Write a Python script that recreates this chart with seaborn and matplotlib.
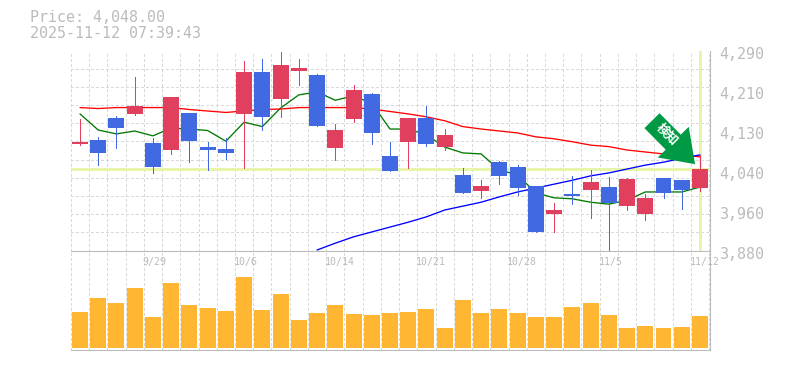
import numpy as np
import pandas as pd
import matplotlib
matplotlib.use("Agg")
import matplotlib.pyplot as plt
from matplotlib.transforms import ScaledTranslation
import seaborn as sns

open_ = [4098,4106,4152,4160,4100,4086,4162,4092,4088,4160,4246,4191,4248,4240,4090,4150,4201,4074,4102,4152,4092,4035,4002,4061,4051,4012,3955,3996,4004,4010,3971,3955,4029,4024,4008]
close = [4102,4080,4131,4176,4051,4195,4104,4086,4080,4246,4154,4260,4254,4135,4127,4209,4121,4043,4152,4098,4117,3998,4012,4033,4008,3918,3963,3992,4020,3977,4027,3988,3998,4004,4048]
high = [4150,4113,4156,4236,4111,4195,4162,4102,4111,4268,4273,4287,4273,4242,4139,4219,4203,4102,4152,4176,4129,4049,4024,4063,4055,4012,3977,4033,4045,4031,4029,3996,4029,4024,4076]
low = [4096,4055,4090,4158,4039,4078,4061,4045,4068,4049,4127,4154,4219,4135,4065,4143,4098,4043,4049,4094,4086,3998,3988,4016,3994,3918,3918,3975,3947,3880,3963,3942,3988,3965,4002]
ma_short = [4160,4127,4119,4125,4115,4131,4129,4126,4104,4143,4134,4172,4199,4205,4188,4197,4182,4129,4129,4117,4092,4080,4078,4045,4035,3998,3988,3986,3979,3975,3983,4000,4000,4000,4010]
ma_mid = [4173,4171,4173,4173,4173,4173,4169,4166,4163,4166,4169,4170,4173,4173,4173,4173,4170,4165,4160,4154,4146,4134,4129,4125,4121,4113,4109,4103,4096,4093,4086,4082,4078,4076,4072]
ma_long = [np.nan]*13 + [3881,3895,3908,3918,3928,3938,3949,3963,3971,3979,3990,4000,4008,4016,4024,4033,4039,4047,4055,4061,4069,4076]
volume = [36,50,45,60,31,65,43,40,37,71,38,54,28,35,43,34,33,35,36,39,20,48,35,39,35,31,31,41,45,33,20,22,20,21,32]
price_ticks = [3880,3962,4044,4126,4208,4290]
price_labels = ["3,880","3,960","4,040","4,130","4,210","4,290"]
date_pos = [4,9,14,19,24,29,34]
date_labels = ["9/29","10/6","10/14","10/21","10/28","11/5","11/12"]
last_price = 4048
title_lines = ["Price: 4,048.00","2025-11-12 07:39:43"]

RED, BLUE = "#E0405E", "#4169E1"
GREY, GRID = "#BBBBBB", "#D9D9D9"
LIME = "#E6F5A8"
W, H = 785, 370
idx = np.arange(len(close))
df = pd.DataFrame(dict(i=idx, o=open_, c=close, h=high, l=low, s=ma_short, m=ma_mid, b=ma_long, v=volume))

sns.set_theme(style="white")
plt.rcParams["font.family"] = ["DejaVu Sans Mono"]
fig = plt.figure(figsize=(W/100, H/100), dpi=100)
L, R, T, M, B = 70.5, 710, 50.5, 250.5, 350
axv = fig.add_axes([L/W, 1-B/H, (R-L)/W, (B-M)/H])
ax = fig.add_axes([L/W, 1-M/H, (R-L)/W, (M-T)/H], sharex=axv)
ax.set_zorder(2); ax.patch.set_visible(False); axv.patch.set_visible(False)

# volume
sns.barplot(data=df, x="i", y="v", native_scale=True, width=0.877, color="#FFB733",
            saturation=1, ax=axv, zorder=3, linewidth=0)
axv.set_ylim(-2, 97.5)
axv.set_xlabel(""); axv.set_ylabel("")
axv.set_yticks([])

# reference lines and moving averages
ax.axhline(last_price, color=LIME, lw=2.1, zorder=1.5)
ax.axvline(idx[-1], color=LIME, lw=2.1, zorder=1.5)
axv.set_xlim(-0.52, 34.55)
for col, colr in (("s", "#007A00"), ("m", "#FF0000"), ("b", "#0000FF")):
    sns.lineplot(data=df, x="i", y=col, color=colr, lw=0.95, ax=ax, zorder=2, errorbar=None)

# candles
colors = [RED if c >= o else BLUE for o, c in zip(open_, close)]
ax.vlines(idx, low, high, colors=colors, lw=0.5, zorder=3, antialiased=False)
ax.bar(idx, np.abs(df.c-df.o), bottom=np.minimum(df.o, df.c), width=0.877, color=colors, zorder=4, linewidth=0)

ax.set_ylim(price_ticks[0], price_ticks[-1])
axv.set_xlim(-0.52, 34.55)
ax.set_xlabel(""); ax.set_ylabel("")

# grid + axes
for a in (ax, axv):
    a.set_xticks(np.arange(-0.5, 35), minor=True)
    a.grid(which="minor", axis="x", color=GRID, ls=(0, (4, 4)), lw=0.5, antialiased=False)
    a.grid(which="major", visible=False)
    a.set_axisbelow(True)
    for s in ("top", "left"):
        a.spines[s].set_visible(False)
    for s in ("bottom", "right"):
        a.spines[s].set_visible(True)
        a.spines[s].set_color(GREY)
        a.spines[s].set_linewidth(0.8)
    a.tick_params(which="both", length=0)
ax.set_yticks(np.linspace(3880, 4290, 12), minor=True)
ax.grid(which="minor", axis="y", color=GRID, ls=(0, (4, 4)), lw=0.5, antialiased=False)

ax.yaxis.tick_right()
ax.set_yticks(price_ticks, price_labels, fontsize=10.8, color=GREY)
ax.tick_params(axis="y", which="major", pad=7, labelcolor=GREY, length=0)
for t in ax.get_yticklabels():
    t.set_transform(t.get_transform() + ScaledTranslation(0, -2.5/100, fig.dpi_scale_trans))

ax.set_xticks(date_pos, date_labels, fontsize=7.1, color=GREY, ha="left")
ax.tick_params(axis="x", which="major", pad=4.5, labelcolor=GREY, length=0)
for t in ax.get_xticklabels():
    t.set_ha("left")
    t.set_transform(t.get_transform() + ScaledTranslation(-10.5/100, 0, fig.dpi_scale_trans))
plt.setp(axv.get_xticklabels(which="both"), visible=False)

# signal arrow
tip = (33.73, 4057)
ax.annotate("", xy=tip, xytext=(-31, 31.3), textcoords="offset points", zorder=6,
            arrowprops=dict(arrowstyle="simple,head_length=22.3,head_width=31.4,tail_width=15.3",
                            mutation_scale=1, color="#009944", lw=0, shrinkA=0, shrinkB=0))
ax.annotate("検知", xy=tip, xytext=(-20.2, 21.2), textcoords="offset points", rotation=-45,
            rotation_mode="anchor", ha="center", va="center", color="white", fontsize=9,
            fontweight="bold", family=["Noto Sans CJK JP", "DejaVu Sans"], zorder=7)

fig.text(30/W, 1-18/H, title_lines[0], color=GREY, fontsize=10.8, va="center")
fig.text(30/W, 1-33/H, title_lines[1], color=GREY, fontsize=10.8, va="center")

fig.savefig("out.png", dpi=100, facecolor="white")
